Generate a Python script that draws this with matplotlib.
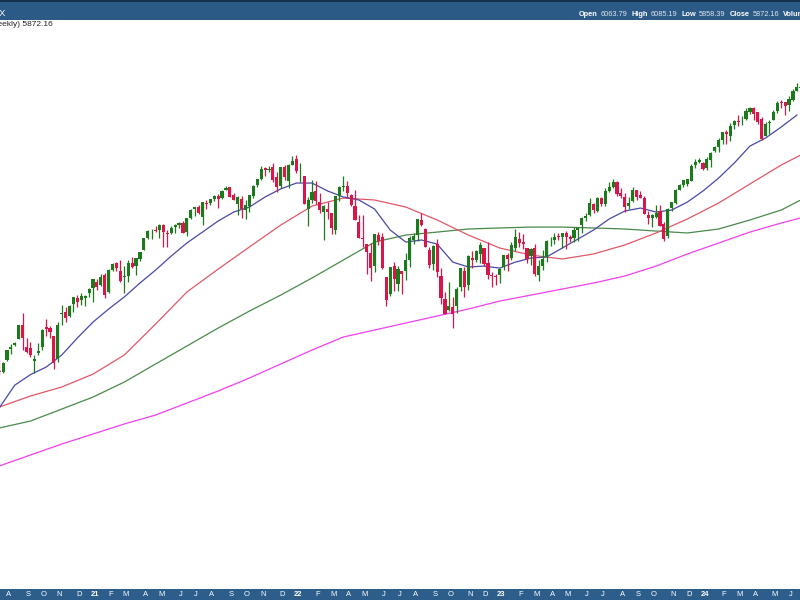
import numpy as np
import pandas as pd
import matplotlib
matplotlib.use("Agg")
import matplotlib.pyplot as plt
from matplotlib.patches import Rectangle
from matplotlib.transforms import blended_transform_factory

# ---------------- weekly OHLC (weeks starting 2020-07-20) ----------------
opens = [
    3224,3219,3288,3356,3380,3419,3509,3372,3363,3285,3334,3367,3500,3493,3441,3296,3583,3600,3567,3654,3694,3675,3694,3723,
    3764,3803,3781,3851,3732,3892,3939,3885,3842,3844,3943,3917,3969,4034,4125,4179,4186,4191,4228,4170,4168,4217,4229,4248,4174,4284,
    4356,4372,4296,4409,4407,4437,4462,4450,4513,4536,4474,4402,4442,4348,4385,4463,4553,4610,4701,4689,4712,4628,4548,4711,4588,4733,
    4778,4655,4632,4357,4432,4505,4412,4332,4355,4327,4188,4462,4541,4548,4474,4385,4256,4131,4081,4013,3919,4152,4134,3838,3716,3921,
    3792,3880,3883,3966,4113,4155,4270,4195,4035,3930,4084,3849,3682,3609,3632,3638,3765,3881,3780,3977,3966,4005,4053,3939,3853,3844,
    3853,3910,3999,3978,4050,4120,4095,4052,3992,4055,3855,3917,3982,4102,4110,4140,4134,4166,4136,4126,4190,4227,4283,4308,4396,4345,
    4450,4394,4506,4543,4584,4492,4459,4380,4426,4510,4473,4446,4311,4284,4289,4343,4239,4140,4364,4406,4515,4554,4569,4593,4725,4759,
    4745,4703,4772,4853,4892,4957,5026,4989,5093,5131,5111,5154,5219,5258,5217,5149,4988,5115,5143,5233,5308,5315,5284,5342,5432,5460,
]
highs = [
    3287,3279,3352,3387,3399,3509,3588,3425,3402,3320,3393,3486,3550,3502,3441,3529,3646,3628,3644,3701,3712,3726,3711,3760,
    3827,3823,3860,3870,3894,3937,3951,3962,3915,3960,3983,3978,4021,4130,4191,4195,4218,4238,4236,4187,4219,4234,4256,4261,4287,4356,
    4372,4393,4415,4430,4441,4469,4480,4513,4546,4536,4493,4466,4466,4429,4476,4560,4608,4718,4714,4718,4744,4672,4713,4731,4740,4808,
    4819,4749,4632,4453,4595,4590,4490,4386,4416,4327,4465,4546,4637,4594,4480,4513,4308,4308,4082,4091,4159,4178,4169,3838,3914,3946,
    3919,3881,4012,4140,4167,4280,4325,4203,4062,4076,4120,3907,3736,3807,3698,3765,3905,3912,4002,4028,4034,4101,4053,4101,3877,3859,
    3907,4003,4016,4095,4195,4176,4156,4052,4049,4079,3964,4040,4110,4133,4164,4170,4170,4186,4155,4212,4213,4290,4323,4448,4408,4458,
    4456,4527,4578,4607,4594,4528,4490,4458,4541,4515,4509,4465,4338,4320,4386,4393,4256,4366,4415,4521,4568,4599,4610,4739,4778,4793,
    4755,4798,4842,4903,4975,5030,5048,5111,5141,5189,5180,5262,5265,5264,5220,5168,5124,5139,5239,5325,5342,5315,5376,5447,5506,5524,
]
lows = [
    3200,3209,3284,3327,3379,3419,3349,3330,3310,3209,3323,3354,3441,3425,3233,3280,3512,3530,3562,3595,3633,3645,3636,3697,
    3663,3750,3778,3694,3726,3883,3885,3805,3723,3805,3902,3854,3955,4034,4118,4118,4173,4127,4057,4062,4156,4168,4209,4165,4144,4279,
    4304,4318,4233,4360,4386,4421,4368,4438,4514,4457,4427,4306,4288,4278,4330,4448,4537,4595,4630,4672,4585,4495,4532,4600,4531,4733,
    4662,4582,4395,4223,4405,4401,4327,4115,4280,4157,4162,4424,4506,4451,4381,4265,4128,4062,3859,3811,3876,4074,3900,3637,3706,3739,
    3742,3722,3818,3911,4079,4108,4218,4057,3907,3887,3837,3648,3584,3602,3492,3590,3740,3698,3750,3906,3945,3938,3919,3828,3765,3784,
    3795,3887,3885,3961,4030,4061,4047,3944,3928,3847,3808,3889,3951,4069,4084,4113,4049,4048,4099,4099,4103,4166,4260,4304,4328,4329,
    4385,4381,4500,4528,4466,4448,4335,4356,4415,4430,4449,4316,4239,4216,4284,4223,4104,4127,4343,4402,4511,4537,4546,4593,4700,4751,
    4682,4682,4714,4845,4845,4918,4920,4946,5058,5085,5091,5145,5204,5146,5108,4953,4987,5011,5142,5212,5257,5191,5234,5332,5431,5446,
]
closes = [
    3216,3271,3351,3373,3397,3508,3427,3341,3319,3298,3348,3477,3484,3465,3270,3509,3585,3558,3638,3699,3663,3709,3703,3756,
    3825,3768,3841,3714,3887,3935,3907,3811,3842,3943,3913,3975,4020,4129,4185,4180,4181,4233,4174,4156,4204,4230,4247,4166,4281,4352,
    4370,4327,4412,4395,4437,4468,4442,4509,4535,4459,4433,4455,4357,4391,4471,4545,4605,4698,4683,4698,4595,4538,4712,4621,4726,4766,
    4677,4663,4398,4432,4501,4419,4349,4385,4329,4204,4463,4543,4546,4488,4393,4272,4132,4123,4024,3901,4158,4109,3901,3675,3912,3825,
    3899,3863,3962,4130,4145,4280,4228,4058,3924,4067,3873,3693,3586,3640,3583,3753,3901,3771,3993,3965,4026,4072,3934,3852,3845,3840,
    3895,3999,3973,4071,4136,4090,4079,3970,4046,3862,3917,3971,4109,4105,4138,4134,4169,4136,4124,4192,4205,4282,4299,4410,4348,4450,
    4399,4505,4536,4582,4478,4464,4370,4406,4516,4457,4450,4320,4288,4309,4328,4224,4117,4358,4415,4514,4559,4595,4604,4719,4755,4770,
    4697,4784,4840,4891,4959,5027,5006,5089,5137,5124,5117,5234,5254,5204,5123,4967,5100,5128,5223,5303,5305,5278,5347,5432,5465,5460,
]

# ---------------- moving averages ----------------
blue_weeks = list(range(0, 205, 4))
ma_blue = [3008,3139,3201,3246,3320,3427,3530,3617,3699,3796,3889,3992,4090,4174,4261,4333,
           4373,4456,4523,4573,4573,4506,4456,4431,4357,4190,4097,4113,4082,3947,3911,3918,
           3903,3947,3977,3985,4052,4120,4190,4277,4341,4365,4333,4349,4414,4506,4616,4747,
           4899,4973,5076,5190]
ma_weeks = list(range(0, 201, 8)) + [205]
ma_red = [3013,3076,3128,3204,3320,3517,3733,3896,4060,4229,4381,4447,4431,4373,4269,4151,
          4052,3999,3970,4007,4075,4167,4277,4406,4565,4729,4818]
ma_green = [2898,2936,3002,3070,3157,3265,3376,3491,3603,3712,3832,3962,4097,4151,4174,4198,
            4206,4213,4213,4206,4198,4182,4167,4198,4269,4349,4431]
ma_magenta = [2700,2756,2813,2866,2920,2969,3036,3105,3181,3265,3351,3433,3478,3524,3570,3617,
              3671,3712,3754,3796,3846,3918,4007,4090,4174,4245,4285]

header_labels = ["Open", "High", "Low", "Close", "Volume"]
header_values = ["6063.79", "6085.19", "5858.39", "5872.16", ""]

# ---------------- figure ----------------
plt.rcParams['font.family'] = ['Liberation Sans', 'DejaVu Sans']
W, H = 800, 600
fig = plt.figure(figsize=(8, 6), dpi=100)
fig.patch.set_facecolor("white")
ax = fig.add_axes([0, 11 / H, 1, 569 / H])
ax.set_yscale("log")
ax.set_ylim(2147.5, 6195)
ax.set_xlim(0.21, 204.8)
ax.set_axis_off()
ax.set_zorder(2)

n = len(closes)
idx = np.arange(n)
o = np.array(opens, float); h = np.array(highs, float)
l = np.array(lows, float); c = np.array(closes, float)
GREEN, RED = "#1c7a1c", "#d8164a"
cols = [GREEN if c[i] >= o[i] else RED for i in range(n)]

ax.plot(ma_weeks, ma_magenta, color="#f040f0", lw=0.9, zorder=1)
ax.plot(ma_weeks, ma_green, color="#4a8a4a", lw=0.9, zorder=1)
ax.plot(ma_weeks, ma_red, color="#e05868", lw=0.9, zorder=1)
ax.plot(blue_weeks, ma_blue, color="#4848a8", lw=0.9, zorder=1)

ax.vlines(idx, l, h, colors=cols, lw=0.9, zorder=2)
bottoms = np.minimum(o, c)
heights = np.maximum(np.abs(c - o), bottoms * 0.0015)
ax.bar(idx, heights, bottom=bottoms, width=0.8, color=cols, linewidth=0, zorder=3)

# header bar
fig.patches.append(Rectangle((0, 1 - 20 / H), 1, 20 / H, transform=fig.transFigure,
                             facecolor="#2b5a86", edgecolor="none", zorder=0))
fig.patches.append(Rectangle((0, 1 - 2 / H), 1, 2 / H, transform=fig.transFigure,
                             facecolor="#15314f", edgecolor="none", zorder=0))
fig.text(5 / W, 1 - 13 / H, "S&P 500 Large Cap Index  INDX", color="white",
         fontsize=6.5, ha="right", va="center", zorder=5)

renderer = fig.canvas.get_renderer()
xpos = 579.0
ytxt = 1 - 15 / H
for lab, val in zip(header_labels, header_values):
    t = fig.text(xpos / W, ytxt, lab, color="white", fontsize=5.3, fontweight="bold",
                 ha="left", va="center", zorder=5)
    xpos = t.get_window_extent(renderer).x1 + 2.5
    if val:
        t2 = fig.text(xpos / W, ytxt, val, color="#dce6f0", fontsize=5.3,
                      ha="left", va="center", zorder=5)
        xpos = t2.get_window_extent(renderer).x1 + 4.5

fig.text(53 / W, 1 - 24 / H, r"\$SPX S&P 500 Large Cap Index (Weekly) 5872.16",
         color="#222222", fontsize=6, ha="right", va="center", zorder=5)

# bottom date bar
fig.patches.append(Rectangle((0, 0), 1, 11 / H, transform=fig.transFigure,
                             facecolor="#2c5d8b", edgecolor="none", zorder=0))
dates = pd.date_range("2020-07-20", periods=n, freq="W-MON")
trans = blended_transform_factory(ax.transData, fig.transFigure)
prev_month = dates[0].month
for i in range(1, n):
    d = dates[i]
    if d.month != prev_month:
        if d.month == 1:
            txt, fw = d.strftime("%y"), "bold"
        else:
            txt, fw = d.strftime("%b")[0], "normal"
        ax.text(i + 0.4, 5.5 / H, txt, transform=trans, color="white", fontsize=5.5,
                fontweight=fw, ha="center", va="center", clip_on=False, zorder=6)
    prev_month = d.month

fig.savefig("out.png", dpi=100)
